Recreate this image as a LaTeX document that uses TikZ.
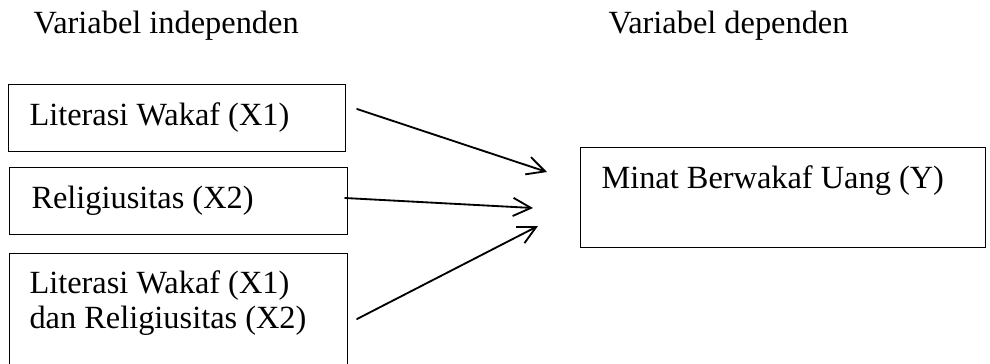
\documentclass[tikz,border=0pt]{standalone}
\usepackage{fontspec}
\setmainfont{Liberation Serif}
\usetikzlibrary{arrows.meta}

\begin{document}
\begin{tikzpicture}[
  x=0.38pt, y=-0.38pt,
  font=\fontsize{12.3}{13.3}\selectfont,
  box/.style={draw, line width=0.5pt, anchor=north west, inner sep=0pt},
  lbl/.style={anchor=base west, inner sep=0pt, align=left},
  link/.style={line width=0.7pt, line cap=round, -{Straight Barb[length=6.8pt, width=6.9pt]}},
]
  \useasboundingbox (0,0) rectangle (990,363);

  % --- headings ---
  \node[lbl] (hindep) at (33,33) {Variabel independen};
  \node[lbl] (hdep) at (608,33) {Variabel dependen};

  % --- variable boxes ---
  \node[box, minimum width=128.1pt, minimum height=25.5pt] (X1) at (8,84) {};
  \node[box, minimum width=128.4pt, minimum height=25.5pt] (X2) at (9,167) {};
  \node[box, minimum width=128.4pt, minimum height=46.4pt] (X3) at (9,253) {};
  \node[box, minimum width=153.9pt, minimum height=38pt] (Y) at (580,147) {};

  % --- box texts ---
  \node[lbl] (X1t) at (29,125) {Literasi Wakaf (X1)};
  \node[lbl] (X2t) at (31,208) {Religiusitas (X2)};
  \node[lbl] (X3t) at (29,328) {Literasi Wakaf (X1)\\dan Religiusitas (X2)};
  \node[lbl] (Yt) at (601,188) {Minat Berwakaf Uang (Y)};

  % --- arrow ends ---
  \coordinate (s1) at (357,109);
  \coordinate (e1) at (547,172);
  \coordinate (s2) at (345,198);
  \coordinate (e2) at (533,208);
  \coordinate (s3) at (357,319);
  \coordinate (e3) at (538,226);

  % --- arrows ---
  \draw[link] (s1) -- (e1);
  \draw[link] (s2) -- (e2);
  \draw[link] (s3) -- (e3);
\end{tikzpicture}
\end{document}
